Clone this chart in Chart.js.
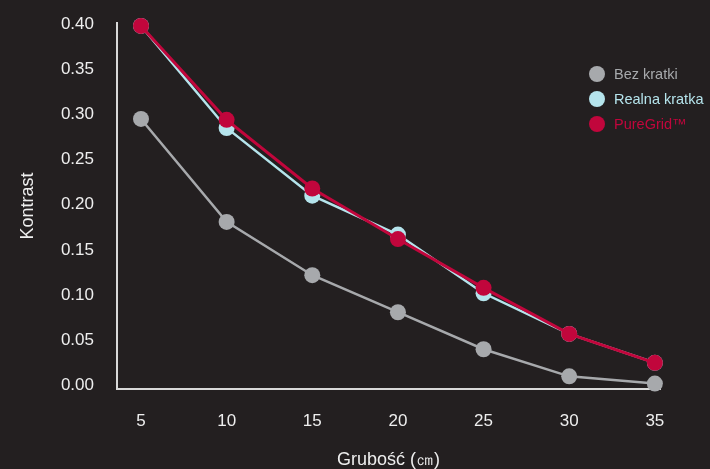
<!DOCTYPE html>
<html>
<head>
<meta charset="utf-8">
<script src="https://cdn.jsdelivr.net/npm/chart.js@4"></script>
<style>
  html, body { margin: 0; padding: 0; background: #231f20; }
  #wrap { width: 710px; height: 469px; }
</style>
</head>
<body>
<div id="wrap"><canvas id="myChart" width="710" height="469"></canvas></div>
<script>
var thickness = [5, 10, 15, 20, 25, 30, 35];
var bezKratki = [0.295, 0.181, 0.122, 0.081, 0.040, 0.010, 0.002];
var realnaKratka = [0.398, 0.285, 0.210, 0.167, 0.102, 0.057, 0.025];
var pureGrid = [0.398, 0.294, 0.218, 0.162, 0.108, 0.057, 0.025];
var yTicks = [0, 0.05, 0.10, 0.15, 0.20, 0.25, 0.30, 0.35, 0.40];

var gray = '#a7a9ac', cyan = '#b5e4ec', red = '#c1063c';
var axisColor = '#d9d9d9';
var fontFam = '"Liberation Sans", Arial, sans-serif';

function pts(vals) {
    return thickness.map(function (x, i) { return { x: x, y: vals[i] }; });
}

function series(label, vals, color, order, width) {
    return {
        label: label,
        data: pts(vals),
        order: order,
        borderColor: color,
        backgroundColor: color,
        borderWidth: width,
        pointRadius: 8,
        pointHoverRadius: 8,
        pointBorderWidth: 0,
        tension: 0,
        clip: false
    };
}

// legend drawn over the plot, each label in its series colour
var sideLegend = {
    id: 'sideLegend',
    afterDraw: function (chart) {
        var c = chart.ctx;
        c.save();
        c.font = '14.5px ' + fontFam;
        c.textBaseline = 'middle';
        chart.data.datasets.forEach(function (ds, i) {
            var y = 74 + i * 25;
            c.fillStyle = ds.borderColor;
            c.beginPath();
            c.arc(597, y, 8, 0, Math.PI * 2);
            c.fill();
            c.fillText(ds.label, 614, y + 1);
        });
        c.restore();
    }
};

var ctx = document.getElementById('myChart').getContext('2d');
var myChart = new Chart(ctx, {
    type: 'line',
    data: {
        datasets: [
            series('Bez kratki', bezKratki, gray, 2, 2.5),
            series('Realna kratka', realnaKratka, cyan, 1, 2.5),
            series('PureGrid™', pureGrid, red, 0, 3)
        ]
    },
    plugins: [sideLegend],
    options: {
        responsive: false,
        animation: false,
        layout: { padding: { top: 0, right: 50, left: 0, bottom: 0 } },
        plugins: {
            legend: { display: false },
            tooltip: { enabled: false }
        },
        scales: {
            x: {
                type: 'linear',
                min: 3.6,
                max: 35.3,
                afterBuildTicks: function (axis) {
                    axis.ticks = thickness.map(function (v) { return { value: v }; });
                },
                afterFit: function (axis) { axis.height = 80; },
                grid: { display: false, drawTicks: false },
                border: { display: true, color: axisColor, width: 2 },
                ticks: {
                    color: '#eeeeee',
                    padding: 22,
                    font: { size: 17, family: fontFam }
                },
                title: {
                    display: true,
                    text: 'Grubość (㎝)',
                    color: '#eeeeee',
                    padding: { top: 0, bottom: 0 },
                    font: { size: 18, family: fontFam, lineHeight: 1 }
                }
            },
            y: {
                min: -0.004,
                max: 0.401,
                afterBuildTicks: function (axis) {
                    axis.ticks = yTicks.map(function (v) { return { value: v }; });
                },
                afterFit: function (axis) { axis.width = 117; },
                grid: {
                    display: true,
                    drawOnChartArea: false,
                    drawTicks: true,
                    tickLength: 10,
                    color: 'transparent'
                },
                border: { display: true, color: axisColor, width: 2 },
                ticks: {
                    color: '#eeeeee',
                    padding: 13,
                    font: { size: 17, family: fontFam },
                    callback: function (v) { return v.toFixed(2); }
                },
                title: {
                    display: true,
                    text: 'Kontrast',
                    color: '#eeeeee',
                    padding: { top: 17, bottom: 0 },
                    font: { size: 18, family: fontFam }
                }
            }
        }
    }
});
</script>
</body>
</html>
